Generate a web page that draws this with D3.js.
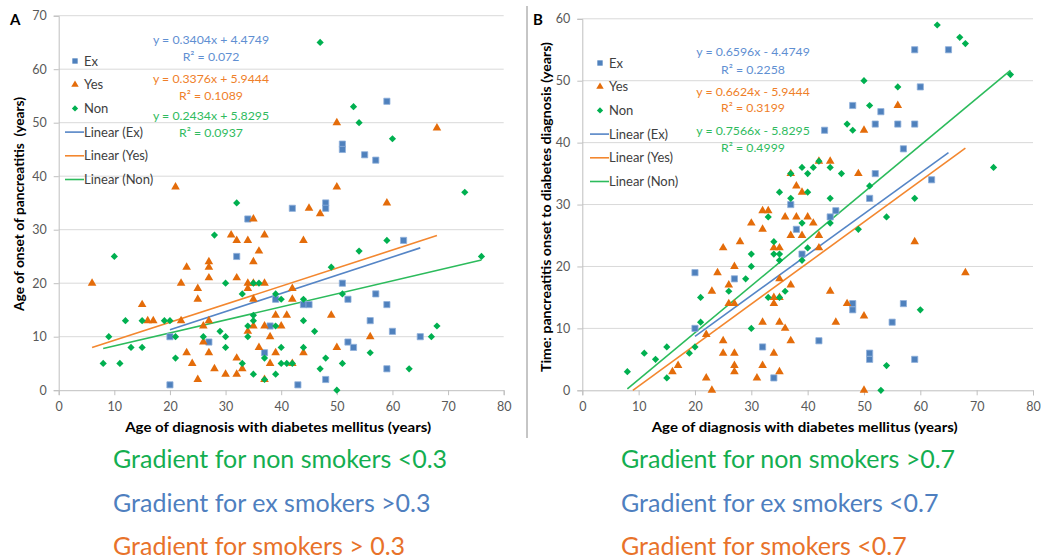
<!DOCTYPE html>
<html><head><meta charset="utf-8">
<script src="https://cdn.jsdelivr.net/npm/d3@7"></script>
<style>
body{margin:0;background:#fff;}
svg{display:block;font-family:Lato,"Open Sans",sans-serif;}
</style></head><body>
<svg id="chart" width="1044" height="560"></svg>
<script>
// ---- Data: [age at diabetes diagnosis, value] per smoking group ----
const seriesNames = ["Ex", "Yes", "Non"];

// Panel A: age of onset of pancreatitis
const exA = [[20,1],[20,10],[27,9],[32,25],[34,32],[37,7],[38,12],[39,17],[42,34],[43,1],[44,16],[45,16],[48,35],[48,34],[48,2],[51,46],[51,45],[51,20],[52,17],[52,9],[53,8],[55,44],[56,13],[57,43],[57,18],[59,54],[59,16],[59,4],[60,11],[62,28],[65,10]];
const yesA = [[6,20],[15,16],[16,13],[17,13],[21,38],[22,20],[22,13],[23,23],[23,7],[24,5],[25,19],[25,17],[25,2],[26,12],[26,9],[27,24],[27,23],[27,21],[27,13],[27,7],[28,4],[30,3],[31,29],[32,28],[32,21],[32,6],[32,3],[33,4],[34,28],[34,20],[34,19],[34,11],[35,32],[35,24],[35,20],[35,17],[35,12],[36,26],[36,8],[37,29],[37,20],[37,12],[37,2],[38,10],[38,5],[39,14],[39,7],[40,12],[41,14],[42,19],[42,17],[42,5],[44,28],[44,7],[45,34],[47,33],[49,14],[50,50],[50,38],[50,8],[56,10],[59,35],[68,49]];
const nonA = [[8,5],[9,10],[10,25],[11,5],[12,13],[13,8],[15,13],[15,8],[19,13],[20,13],[21,10],[21,6],[26,10],[28,29],[29,11],[30,20],[30,10],[30,8],[32,35],[33,18],[33,5],[34,12],[34,10],[35,20],[35,14],[35,13],[35,3],[36,20],[37,6],[37,2],[39,18],[39,12],[39,3],[40,17],[40,8],[40,5],[41,5],[42,5],[44,17],[44,13],[44,8],[46,11],[47,65],[47,4],[48,6],[49,23],[50,0],[51,18],[51,5],[53,53],[54,50],[54,26],[56,7],[59,28],[60,47],[63,4],[67,10],[68,12],[73,37],[76,25]];

// Panel B: time from pancreatitis onset to diabetes diagnosis
const exB = [[20,19],[20,10],[27,18],[32,7],[34,2],[37,30],[38,26],[39,22],[42,8],[43,42],[44,28],[45,29],[48,13],[48,14],[48,46],[51,5],[51,6],[51,31],[52,35],[52,43],[53,45],[55,11],[56,43],[57,14],[57,39],[59,5],[59,43],[59,55],[60,49],[62,34],[65,55]];
const yesB = [[16,3],[17,4],[22,2],[22,9],[23,0],[23,16],[24,19],[25,6],[25,8],[25,23],[26,14],[26,17],[27,3],[27,4],[27,6],[27,14],[27,20],[28,24],[30,27],[31,2],[32,4],[32,11],[32,26],[32,29],[33,29],[34,6],[34,14],[34,15],[34,23],[35,3],[35,11],[35,15],[35,18],[35,23],[36,10],[36,28],[37,8],[37,17],[37,25],[37,35],[38,28],[38,33],[39,25],[39,32],[40,28],[41,27],[42,23],[42,25],[42,37],[44,16],[44,37],[45,11],[47,14],[49,35],[50,0],[50,12],[50,42],[56,46],[59,24],[68,19]];
const nonB = [[8,3],[11,6],[13,5],[15,2],[15,7],[19,6],[20,7],[21,11],[21,15],[26,16],[29,18],[30,10],[30,20],[30,22],[33,15],[33,28],[34,22],[34,24],[35,15],[35,21],[35,22],[35,32],[36,16],[37,31],[37,35],[39,21],[39,27],[39,36],[40,23],[40,32],[40,35],[41,36],[42,37],[44,27],[44,31],[44,36],[46,35],[47,43],[48,42],[49,26],[50,50],[51,33],[51,46],[53,0],[54,4],[54,28],[56,49],[59,31],[60,13],[63,59],[67,57],[68,56],[73,36],[76,51]];

// Linear trendlines: slope, intercept, R², and x-span of each group
const slopesA = [0.3404, 0.3376, 0.2434];
const interceptsA = [4.4749, 5.9444, 5.8295];
const r2A = ["0.072", "0.1089", "0.0937"];
const slopesB = [0.6596, 0.6624, 0.7566];
const interceptsB = [-4.4749, -5.9444, -5.8295];
const r2B = ["0.2258", "0.3199", "0.4999"];
const trendSpan = [[20, 65], [6, 68], [8, 76]];

// Axis ticks
const xTicks = [0, 10, 20, 30, 40, 50, 60, 70, 80];
const yTicksA = [0, 10, 20, 30, 40, 50, 60, 70];
const yTicksB = [0, 10, 20, 30, 40, 50, 60];

// Footnotes under each panel (non smokers, ex smokers, smokers)
const notesA = ["Gradient for non smokers <0.3", "Gradient for ex smokers >0.3", "Gradient for smokers > 0.3"];
const notesB = ["Gradient for non smokers >0.7", "Gradient for ex smokers <0.7", "Gradient for smokers <0.7"];

// ---- Styling ----
const markerFill = ["#4f81bd", "#e46c0a", "#00b050"];
const lineColor = ["#5585c6", "#f3872f", "#2cbb5c"];
const eqColor = ["#5f8fd2", "#ef7f2a", "#2fbb5e"];
const noteColor = ["#14ae50", "#4f7fbf", "#e8722a"];
const FONT = "Lato, 'Open Sans', sans-serif";

const svg = d3.select("#chart");

function markerPath(i, scale) {
  const s = scale || 1;
  if (i === 0) return d3.symbol(d3.symbolSquare, 38 * s)();
  if (i === 1) return d3.symbol(d3.symbolTriangle, 32 * s)();
  return d3.symbol(d3.symbolSquare, 26 * s)();
}
function markerRotate(i) { return i === 2 ? " rotate(45)" : ""; }

function drawPanel(p) {
  const g = svg.append("g");
  const x = d3.scaleLinear().domain([0, 80]).range([p.left, p.right]);
  const y = d3.scaleLinear().domain([0, p.yMax]).range([p.bottom, p.top]);

  // horizontal gridlines
  g.append("g").selectAll("line")
    .data(p.yTicks.filter(v => v > 0))
    .join("line")
    .attr("x1", p.left).attr("x2", p.right)
    .attr("y1", d => y(d)).attr("y2", d => y(d))
    .attr("stroke", "#d9d9d9").attr("stroke-width", 1);

  // axes
  const ax = g.append("g").attr("transform", `translate(0,${p.bottom})`)
    .call(d3.axisBottom(x).tickValues(xTicks).tickSize(5).tickPadding(7));
  const ay = g.append("g").attr("transform", `translate(${p.left},0)`)
    .call(d3.axisLeft(y).tickValues(p.yTicks).tickSize(5).tickPadding(7));
  [ax, ay].forEach(a => {
    a.attr("font-family", FONT).attr("font-size", 12.5);
    a.select(".domain").attr("stroke", "#bfbfbf");
    a.selectAll(".tick line").attr("stroke", "#bfbfbf");
    a.selectAll(".tick text").attr("fill", "#595959");
  });

  // trendlines (clipped at the bottom of the value axis)
  p.slopes.forEach((m, i) => {
    const b = p.intercepts[i];
    let x0 = trendSpan[i][0], x1 = trendSpan[i][1];
    if (m * x0 + b < 0) x0 = -b / m;
    g.append("line")
      .attr("x1", x(x0)).attr("y1", y(m * x0 + b))
      .attr("x2", x(x1)).attr("y2", y(m * x1 + b))
      .attr("stroke", lineColor[i]).attr("stroke-width", 1.6);
  });

  // points
  p.data.forEach((arr, i) => {
    g.append("g").selectAll("path")
      .data(arr.filter(d => d[1] >= 0 && d[1] <= p.yMax))
      .join("path")
      .attr("d", markerPath(i))
      .attr("transform", d => `translate(${x(d[0])},${y(d[1])})` + markerRotate(i))
      .attr("fill", markerFill[i])
      .attr("stroke", i === 0 ? "#8fb0da" : "none")
      .attr("stroke-width", 0.8);
  });

  // legend
  const lg = g.append("g").attr("font-family", FONT).attr("font-size", 13).attr("fill", "#404040");
  const legendLabels = seriesNames.concat(seriesNames.map(s => `Linear (${s})`));
  legendLabels.forEach((lab, k) => {
    const ly = p.legY + k * 23.7;
    if (k < 3) {
      lg.append("path").attr("d", markerPath(k, 0.75))
        .attr("transform", `translate(${p.legX + 10},${ly})` + markerRotate(k))
        .attr("fill", markerFill[k]);
    } else {
      lg.append("line").attr("x1", p.legX).attr("x2", p.legX + 19)
        .attr("y1", ly).attr("y2", ly)
        .attr("stroke", lineColor[k - 3]).attr("stroke-width", 1.6);
    }
    lg.append("text").attr("x", p.legX + 19).attr("y", ly).attr("dy", "0.35em").text(lab);
  });

  // trendline equations
  const eg = g.append("g").attr("font-family", FONT).attr("font-size", 12.3).attr("text-anchor", "middle");
  p.slopes.forEach((m, i) => {
    const b = p.intercepts[i];
    const sign = b < 0 ? "-" : "+";
    eg.append("text").attr("x", p.eqX).attr("y", p.eqY[2 * i]).attr("dy", "0.35em")
      .attr("fill", eqColor[i]).text(`y = ${m.toFixed(4)}x ${sign} ${Math.abs(b).toFixed(4)}`);
    eg.append("text").attr("x", p.eqX).attr("y", p.eqY[2 * i + 1]).attr("dy", "0.35em")
      .attr("fill", eqColor[i]).text(`R² = ${p.r2[i]}`);
  });

  // panel letter
  g.append("text").attr("x", p.letterX).attr("y", 25).attr("font-family", FONT)
    .attr("font-size", 15).attr("font-weight", "bold").attr("fill", "#000").text(p.letter);

  // axis titles
  g.append("text").attr("x", (p.left + p.right) / 2 - 3).attr("y", 432)
    .attr("text-anchor", "middle").attr("font-family", FONT).attr("font-size", 13.5)
    .attr("font-weight", "bold").attr("fill", "#000")
    .attr("textLength", p.xTitleLen).attr("lengthAdjust", "spacingAndGlyphs").text(p.xTitle);
  g.append("text")
    .attr("transform", `translate(${p.yTitleX},${p.yTitleY}) rotate(-90)`)
    .attr("text-anchor", "middle").attr("font-family", FONT).attr("font-size", 13.5)
    .attr("font-weight", "bold").attr("fill", "#000").style("white-space", "pre")
    .attr("textLength", p.yTitleLen).attr("lengthAdjust", "spacingAndGlyphs").text(p.yTitle);

  // footnotes
  p.notes.forEach((t, k) => {
    svg.append("text").attr("x", p.noteX).attr("y", 468 + k * 43.5)
      .attr("font-family", FONT).attr("font-size", 25)
      .attr("fill", noteColor[k]).text(t);
  });
}

drawPanel({
  letter: "A", letterX: 10,
  left: 58.7, right: 503.7, top: 15.7, bottom: 390.2, yMax: 70, yTicks: yTicksA,
  data: [exA, yesA, nonA], slopes: slopesA, intercepts: interceptsA, r2: r2A,
  legX: 65, legY: 61, eqX: 211, eqY: [40, 57, 79, 96, 116, 133],
  xTitle: "Age of diagnosis with diabetes mellitus (years)", xTitleLen: 306,
  yTitle: "Age of onset of pancreatitis  (years)", yTitleX: 24, yTitleY: 204, yTitleLen: 214,
  notes: notesA, noteX: 113
});
drawPanel({
  letter: "B", letterX: 533,
  left: 582.3, right: 1033, top: 18.8, bottom: 390.3, yMax: 60, yTicks: yTicksB,
  data: [exB, yesB, nonB], slopes: slopesB, intercepts: interceptsB, r2: r2B,
  legX: 590, legY: 63, eqX: 753, eqY: [52, 70, 92, 108, 131, 148],
  xTitle: "Age of diagnosis with diabetes mellitus (years)", xTitleLen: 306,
  yTitle: "Time: pancreatitis onset to diabetes diagnosis (years)", yTitleX: 551, yTitleY: 207, yTitleLen: 330,
  notes: notesB, noteX: 621
});

// divider between the two panels
svg.append("line").attr("x1", 527).attr("x2", 527).attr("y1", 6).attr("y2", 438)
  .attr("stroke", "#8c8c8c").attr("stroke-width", 1);
</script>
</body></html>
